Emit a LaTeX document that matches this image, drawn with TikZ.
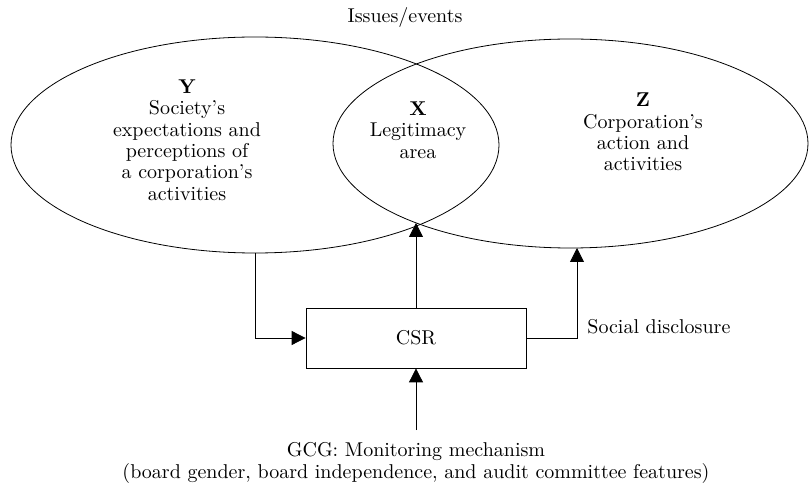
\documentclass[tikz,border=0pt]{standalone}
\usetikzlibrary{shapes.geometric,arrows.meta}

\begin{document}
\begin{tikzpicture}[x=0.5pt, y=-0.5pt,
  every node/.style={font=\fontsize{10}{10.7}\selectfont},
  area/.style={ellipse, draw, line width=0.4pt, inner sep=0pt},
  label/.style={align=center, inner sep=0pt},
  every edge/.style={draw, line width=0.4pt}]
\useasboundingbox (0,0) rectangle (809,486);
\node[area, minimum width=244pt, minimum height=108pt] (Yarea) at (255,145) {};
\node[area, minimum width=237.5pt, minimum height=104.5pt] (Zarea) at (570.5,143.5) {};
\node[label] (Issues) at (405,18) {Issues/events};
\node[label] (Ylabel) at (187,140) {\textbf{Y}\\Society's\\expectations and\\perceptions of\\a corporation's\\activities};
\node[label] (Xlabel) at (418,130) {\textbf{X}\\Legitimacy\\area};
\node[label] (Zlabel) at (643,132) {\textbf{Z}\\Corporation's\\action and\\activities};
\node[draw, line width=0.4pt, minimum width=110pt, minimum height=30pt, inner sep=0pt] (CSR) at (416,338) {CSR};
\node[label, anchor=west] (Social) at (587,327) {Social disclosure};
\node[label] (GCG) at (416,463) {GCG: Monitoring mechanism\\(board gender, board independence, and audit committee features)};
\coordinate (Xtip) at (416,223);
\coordinate (Ztip) at (577,248);
\coordinate (GCGtop) at (416,430);
\draw[-{Triangle[length=7pt, width=7pt]}, line width=0.4pt] (Yarea.south) |- (CSR.west);
\draw[-{Triangle[length=7pt, width=7pt]}, line width=0.4pt] (CSR.north) -- (Xtip);
\draw[-{Triangle[length=7pt, width=7pt]}, line width=0.4pt] (CSR.east) -| (Ztip);
\draw[-{Triangle[length=7pt, width=7pt]}, line width=0.4pt] (GCGtop) -- (CSR.south);
\end{tikzpicture}
\end{document}
